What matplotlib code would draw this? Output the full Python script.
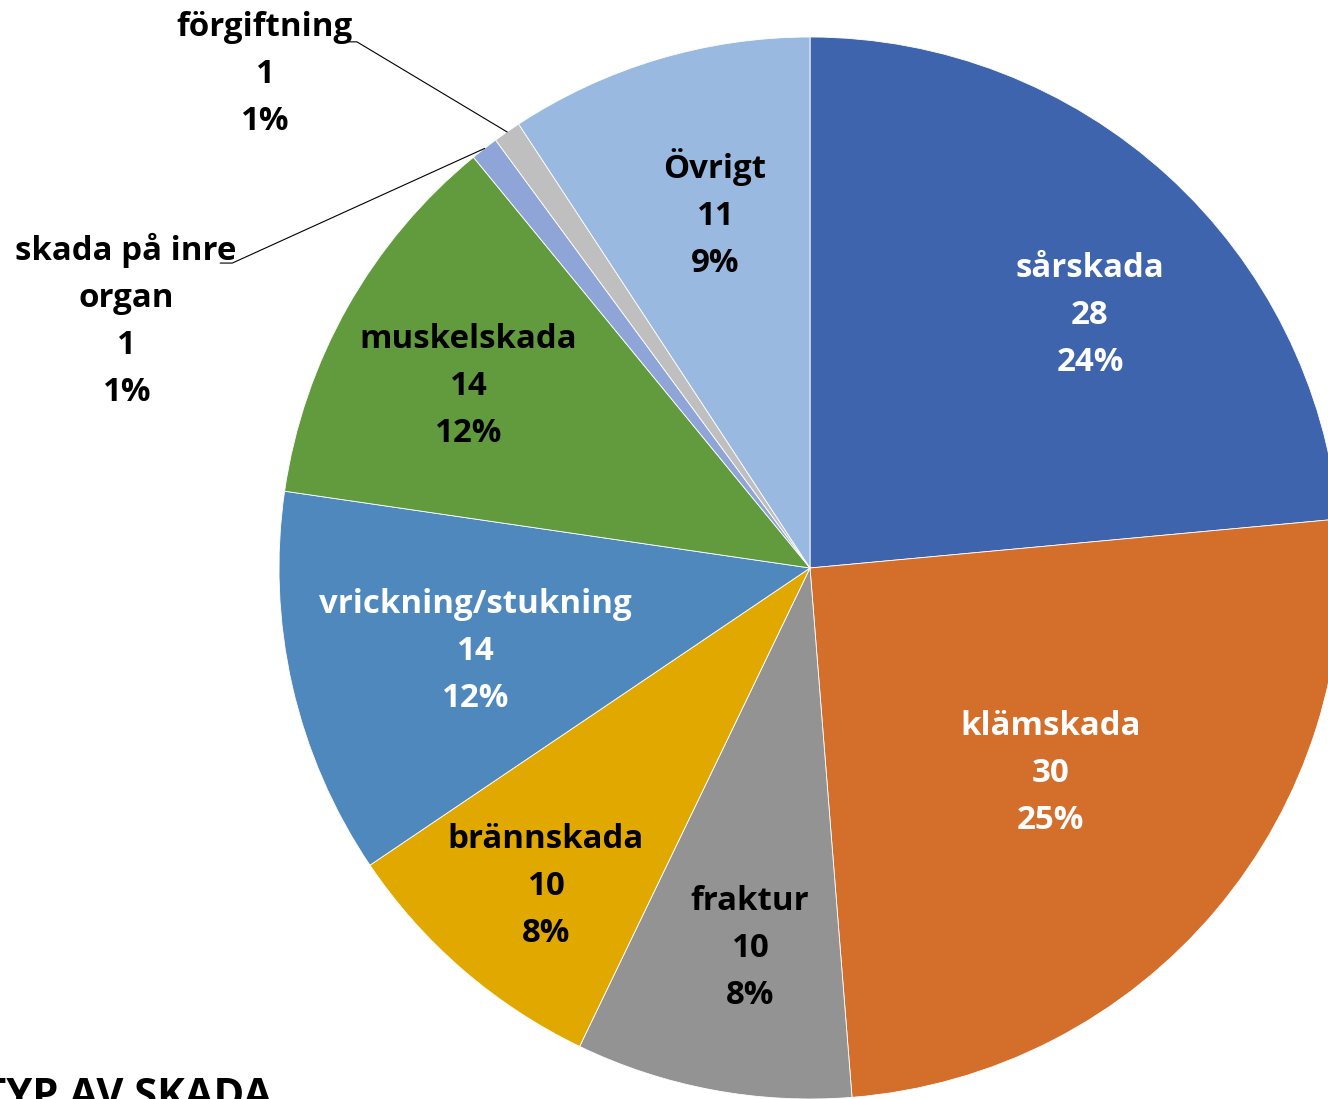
import numpy as np
import matplotlib
matplotlib.use("Agg")
import matplotlib.pyplot as plt

plt.rcParams['font.family'] = ['Open Sans', 'DejaVu Sans']

categories = ["sårskada", "klämskada", "fraktur", "brännskada", "vrickning/stukning",
              "muskelskada", "skada på inre\norgan", "förgiftning", "Övrigt"]
counts = [28, 30, 10, 10, 14, 14, 1, 1, 11]
colors = ["#3D64AD", "#D46E2B", "#939393", "#E1A800", "#4F88BD",
          "#629A3E", "#8FA5D7", "#BFBFBF", "#99B9E0"]
text_colors = ["white", "white", "black", "black", "white", "black", "black", "black", "black"]
title = "TYP AV SKADA"

# label placement: radius (pie radius = 1) and angle tweak from wedge middle
label_r = [0.71, 0.595, 0.725, 0.78, 0.65, 0.73, 1.37, 1.385, 0.69]
label_dang = [-5.6, -0.4, 1.6, 1.2, 1.1, 1.5, 32.3, 13.1, -1.6]
outside = [False, False, False, False, False, False, True, True, False]

W, H = 1328, 1099
fig = plt.figure(figsize=(W / 100, H / 100), dpi=100)
cx, cy, R = 810, 1099 - 568, 531
ax = fig.add_axes([(cx - R) / W, (cy - R) / H, 2 * R / W, 2 * R / H])

wedges, _ = ax.pie(counts, colors=colors, startangle=90, counterclock=False, radius=1,
                   wedgeprops=dict(edgecolor='white', linewidth=0.6))
ax.set_xlim(-1, 1)
ax.set_ylim(-1, 1)
ax.axis('off')

px = 1 / R  # one pixel in data units
total = sum(counts)
for i, w in enumerate(wedges):
    mid = (w.theta1 + w.theta2) / 2
    ang = np.deg2rad(mid + label_dang[i])
    x, y = label_r[i] * np.cos(ang), label_r[i] * np.sin(ang)
    pct = round(100 * counts[i] / total)
    txt = f"{categories[i]}\n{counts[i]}\n{pct}%"
    ax.text(x, y, txt, ha='center', va='center', fontsize=23.8, fontweight='bold',
            color=text_colors[i], linespacing=1.56, clip_on=False)
    if outside[i]:
        m = np.deg2rad(mid)
        ex, ey = np.cos(m), np.sin(m)
        # leader line starts right after the first text line
        lines = categories[i].split("\n")
        first_w = len(lines[0]) * 0.0262
        nlines = len(lines) + 2
        ty = y + (nlines - 1) / 2 * 49 * px - 16 * px
        tx = x + first_w / 2 + 4 * px
        ax.plot([tx, tx + 12 * px, ex], [ty, ty, ey], color='black', lw=0.8, clip_on=False)

fig.text(272 / W, 1 - 1077 / H, title, ha='right', va='top', fontsize=30, fontweight='bold')

fig.savefig("out.png", dpi=100)
